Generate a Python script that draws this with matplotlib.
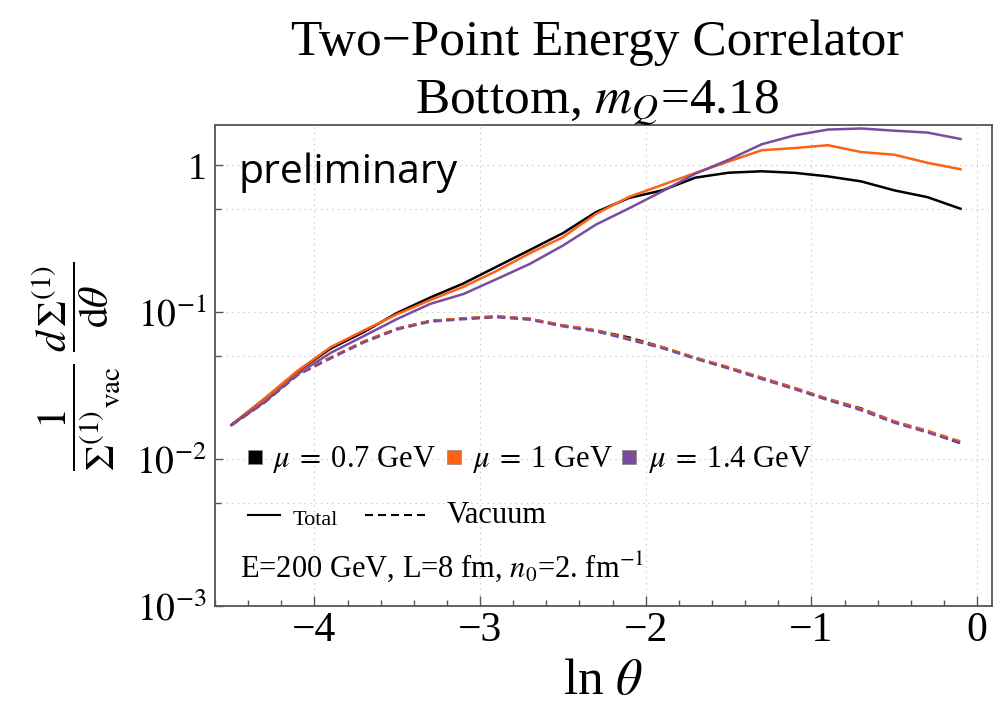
import matplotlib
matplotlib.use("Agg")
import matplotlib.pyplot as plt
from matplotlib.lines import Line2D
from matplotlib.ticker import FixedLocator, FixedFormatter, NullFormatter

# ---------------- data ----------------
ln_theta = [-4.5, -4.3, -4.1, -3.9, -3.7, -3.5, -3.3, -3.1, -2.9, -2.7, -2.5, -2.3,
            -2.1, -1.9, -1.7, -1.5, -1.3, -1.1, -0.9, -0.7, -0.5, -0.3, -0.1]

total_mu07 = [0.0171, 0.0258, 0.0397, 0.0567, 0.0735, 0.0990, 0.126, 0.157, 0.204, 0.265,
              0.345, 0.480, 0.600, 0.675, 0.824, 0.890, 0.910, 0.888, 0.840, 0.777,
              0.675, 0.607, 0.506]
total_mu10 = [0.0171, 0.0258, 0.0400, 0.0580, 0.0753, 0.0970, 0.121, 0.149, 0.191, 0.252,
              0.324, 0.467, 0.610, 0.735, 0.887, 1.06, 1.266, 1.31, 1.37, 1.23,
              1.18, 1.04, 0.940]
total_mu14 = [0.0171, 0.0245, 0.0380, 0.0530, 0.0690, 0.0900, 0.114, 0.133, 0.168, 0.213,
              0.284, 0.395, 0.510, 0.665, 0.877, 1.09, 1.39, 1.60, 1.75, 1.78,
              1.72, 1.67, 1.51]

vac_mu07 = [0.0171, 0.0245, 0.0378, 0.0492, 0.0632, 0.0772, 0.0872, 0.0906, 0.0935, 0.0900,
            0.0812, 0.0750, 0.0672, 0.0578, 0.0488, 0.0420, 0.0357, 0.0304, 0.0256, 0.0221,
            0.0180, 0.0155, 0.0128]
vac_mu10 = [0.0171, 0.0246, 0.0379, 0.0493, 0.0633, 0.0773, 0.0873, 0.0908, 0.0937, 0.0902,
            0.0813, 0.0752, 0.0660, 0.0578, 0.0490, 0.0422, 0.0358, 0.0305, 0.0257, 0.0219,
            0.0181, 0.0156, 0.0132]
vac_mu14 = [0.0170, 0.0243, 0.0374, 0.0486, 0.0624, 0.0764, 0.0862, 0.0896, 0.0924, 0.0889,
            0.0801, 0.0741, 0.0650, 0.0569, 0.0482, 0.0414, 0.0351, 0.0299, 0.0252, 0.0215,
            0.0177, 0.0152, 0.0129]

mu_labels = [r"$\mu\;=\;$0.7 GeV", r"$\mu\;=\;$1 GeV", r"$\mu\;=\;$1.4 GeV"]
colors = ["#000000", "#FF6114", "#7B4C9E"]

x_ticks = [-4, -3, -2, -1, 0]
x_ticklabels = ["\u22124", "\u22123", "\u22122", "\u22121", "0"]
y_ticks = [1e-3, 1e-2, 1e-1, 1]
y_ticklabels = [r"$10^{-3}$", r"$10^{-2}$", r"$10^{-1}$", "1"]
y_minor = [0.005, 0.05, 0.5]

# ---------------- style ----------------
plt.rcParams["font.family"] = ["Liberation Serif", "DejaVu Serif"]
plt.rcParams["mathtext.fontset"] = "stix"
plt.rcParams["lines.scale_dashes"] = False

W, H = 1007, 704
fig = plt.figure(figsize=(W / 100, H / 100), dpi=100)
L, R, T, B = 215, 992, 125, 606
ax = fig.add_axes([L / W, 1 - B / H, (R - L) / W, (B - T) / H])

def px2ax(X, Y):
    return ((X - L) / (R - L), (B - Y) / (B - T))

totals = [total_mu07, total_mu10, total_mu14]
vacs = [vac_mu07, vac_mu10, vac_mu14]
lw = 1.8
dash = (5.8, 3.4)
for tot, c in zip(totals, colors):
    ax.plot(ln_theta, tot, color=c, lw=lw, solid_joinstyle="round", zorder=3)
for vac, c in zip(vacs, colors):
    ax.plot(ln_theta, vac, color=c, lw=lw, dashes=dash, zorder=3)

ax.set_yscale("log")
ax.set_xlim(-4.6, 0.09)
ax.set_ylim(1e-3, 1.88)

ax.xaxis.set_major_locator(FixedLocator(x_ticks))
ax.xaxis.set_major_formatter(FixedFormatter(x_ticklabels))
ax.xaxis.set_minor_locator(FixedLocator([v / 10 for v in range(-46, 1, 2)]))
ax.yaxis.set_major_locator(FixedLocator(y_ticks))
ax.yaxis.set_major_formatter(FixedFormatter(y_ticklabels))
ax.yaxis.set_minor_locator(FixedLocator(y_minor))
ax.yaxis.set_minor_formatter(NullFormatter())

ax.tick_params(axis="both", which="both", direction="in", top=False, right=False,
               color="#555555", width=1.0)
ax.tick_params(axis="x", which="major", length=7, labelsize=30, pad=4)
ax.tick_params(axis="x", which="minor", length=4)
ax.tick_params(axis="y", which="major", length=6, labelsize=27, pad=6)
ax.tick_params(axis="y", which="minor", length=4)

for s in ax.spines.values():
    s.set_color("#555555")
    s.set_linewidth(1.3)

ax.grid(True, axis="x", which="major", ls=(0, (1, 3)), color="#c8c8c8", lw=0.8)
ax.grid(True, axis="y", which="both", ls=(0, (1, 3)), color="#c8c8c8", lw=0.8)
ax.set_axisbelow(True)

ax.set_xlabel(r"ln $\theta$", fontsize=37, labelpad=6)
ax.set_ylabel(r"$\dfrac{1}{\Sigma^{(1)}{}_{\mathrm{vac}}}\;\dfrac{d\,\Sigma^{(1)}}{\mathrm{d}\theta}$",
              fontsize=30)
ax.yaxis.set_label_coords((122 - L) / (R - L), (B - 366) / (B - T))

# preliminary
x0, y0 = px2ax(239, 183)
ax.text(x0, y0, "preliminary", transform=ax.transAxes, family="Open Sans",
        fontsize=29.5, va="baseline", ha="left")

# legend row 1 (colored squares)
sq_x = [255, 454, 629]
tx_x = [272, 472, 648]
for sx, tx, c, lab in zip(sq_x, tx_x, colors, mu_labels):
    mx, my = px2ax(sx, 457)
    ax.add_line(Line2D([mx], [my], transform=ax.transAxes, marker="s", ms=10,
                       color=c, mec="#888888", mew=0.5, ls="none", clip_on=False))
    a, b = px2ax(tx, 467)
    ax.text(a, b, lab, transform=ax.transAxes, fontsize=22, va="baseline", ha="left")

# legend row 2
a0, yl = px2ax(248, 515)
a1, _ = px2ax(280, 515)
ax.add_line(Line2D([a0, a1], [yl, yl], transform=ax.transAxes, color="black", lw=1.5))
a, b = px2ax(293, 525)
ax.text(a, b, "Total", transform=ax.transAxes, fontsize=16, va="baseline")
a0, _ = px2ax(365, 515)
a1, _ = px2ax(427, 515)
ax.add_line(Line2D([a0, a1], [yl, yl], transform=ax.transAxes, color="black", lw=1.5,
                   dashes=(8 * 0.72, 5 * 0.72)))
a, b = px2ax(447, 523)
ax.text(a, b, "Vacuum", transform=ax.transAxes, fontsize=22, va="baseline")

# parameters
a, b = px2ax(240, 577)
ax.text(a, b, r"E=200 GeV, L=8 fm, $n_0$=2. fm$^{-1}$", transform=ax.transAxes,
        fontsize=22, va="baseline")

# title
fig.text(597 / W, 1 - 55 / H, "Two\u2212Point Energy Correlator", ha="center",
         va="baseline", fontsize=37)
fig.text(597 / W, 1 - 112 / H, r"Bottom, $m_Q$=4.18", ha="center", va="baseline",
         fontsize=37)

fig.savefig("out.png", dpi=100)
